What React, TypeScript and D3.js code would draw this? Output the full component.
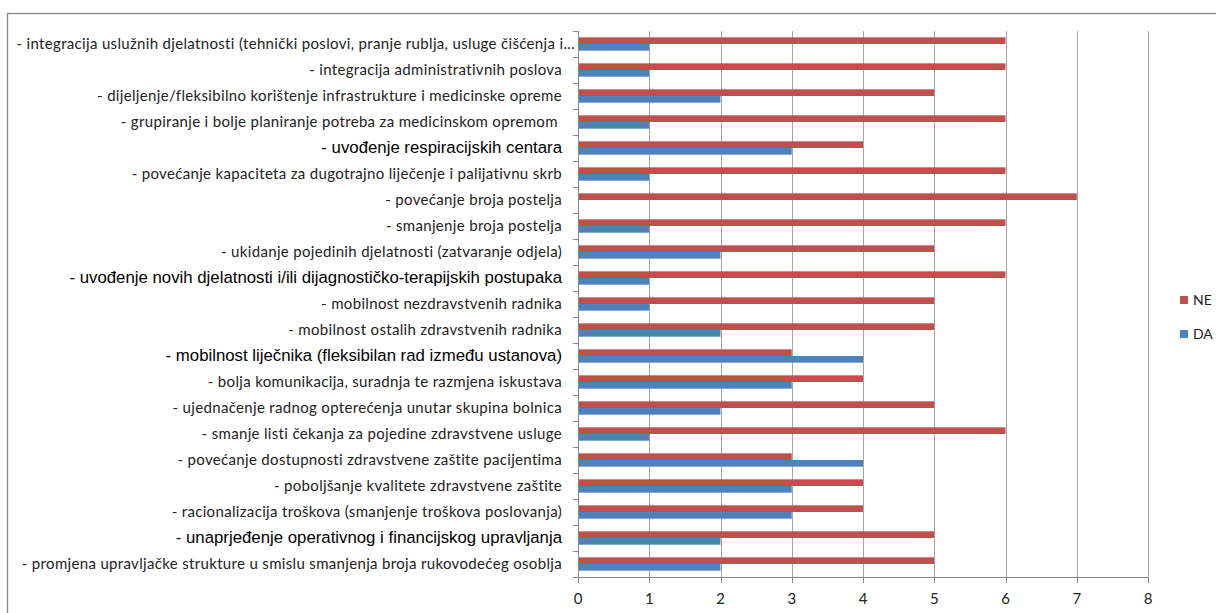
import { useRef, useEffect } from "react";
import * as d3 from "d3";

const categories = [
  "- integracija uslužnih djelatnosti (tehnički poslovi, pranje rublja, usluge čišćenja i...",
  "- integracija administrativnih poslova",
  "- dijeljenje/fleksibilno korištenje infrastrukture i medicinske opreme",
  "- grupiranje i bolje planiranje potreba za medicinskom opremom ",
  "- uvođenje respiracijskih centara",
  "- povećanje kapaciteta za dugotrajno liječenje i palijativnu skrb",
  "- povećanje broja postelja",
  "- smanjenje broja postelja",
  "- ukidanje pojedinih djelatnosti (zatvaranje odjela)",
  "- uvođenje novih djelatnosti i/ili dijagnostičko-terapijskih postupaka",
  "- mobilnost nezdravstvenih radnika",
  "- mobilnost ostalih zdravstvenih radnika",
  "- mobilnost liječnika (fleksibilan rad između ustanova)",
  "- bolja komunikacija, suradnja te razmjena iskustava",
  "- ujednačenje radnog opterećenja unutar skupina bolnica",
  "- smanje listi čekanja za pojedine zdravstvene usluge",
  "- povećanje dostupnosti zdravstvene zaštite pacijentima",
  "- poboljšanje kvalitete zdravstvene zaštite",
  "- racionalizacija troškova (smanjenje troškova poslovanja)",
  "- unaprjeđenje operativnog i financijskog upravljanja",
  "- promjena upravljačke strukture u smislu smanjenja broja rukovodećeg osoblja",
];

// labels that were typed in a different font in the source sheet
const arialLabels = [4, 9, 12, 19];

const neValues = [6, 6, 5, 6, 4, 6, 7, 6, 5, 6, 5, 5, 3, 4, 5, 6, 3, 4, 4, 5, 5];
const daValues = [1, 1, 2, 1, 3, 1, 0, 1, 2, 1, 1, 2, 4, 3, 2, 1, 4, 3, 3, 2, 2];

const seriesNames = ["NE", "DA"];
const seriesColors = ["#C0504D", "#4F81BD"];
const xTicks = [0, 1, 2, 3, 4, 5, 6, 7, 8];

const App = () => {
  const svgRef = useRef(null);

  useEffect(() => {
    d3.select(svgRef.current).selectAll("*").remove();

    const width = 1216;
    const height = 613;
    const left = 578;
    const right = 1148;
    const top = 31;
    const bottom = 577;
    const gridColor = "#A6A6A6";
    const axisColor = "#868686";
    const bodyFont = "Lato, 'Open Sans', sans-serif";

    const svg = d3
      .select(svgRef.current)
      .attr("width", width)
      .attr("height", height);

    svg.append("rect").attr("width", width).attr("height", height).attr("fill", "#fff");

    // chart frame
    svg
      .append("rect")
      .attr("x", 7.5)
      .attr("y", 13.5)
      .attr("width", width + 10)
      .attr("height", height + 10)
      .attr("fill", "none")
      .attr("stroke", axisColor)
      .attr("stroke-width", 1.3);

    const x = d3.scaleLinear().domain([0, 8]).range([left, right]);
    const y = d3
      .scaleBand()
      .domain(categories)
      .range([top, bottom]);
    const inner = d3
      .scaleBand()
      .domain(seriesNames)
      .range([0, y.bandwidth()])
      .paddingOuter(0.95)
      .paddingInner(0);

    // vertical gridlines
    svg
      .append("g")
      .selectAll("line")
      .data(xTicks.slice(1))
      .enter()
      .append("line")
      .attr("x1", (d) => Math.round(x(d)) + 0.5)
      .attr("x2", (d) => Math.round(x(d)) + 0.5)
      .attr("y1", top)
      .attr("y2", bottom + 5)
      .attr("stroke", gridColor)
      .attr("stroke-width", 1);

    // bars
    const rows = categories.map((c, i) => ({ c, vals: [neValues[i], daValues[i]] }));
    const groups = svg
      .append("g")
      .selectAll("g")
      .data(rows)
      .enter()
      .append("g")
      .attr("transform", (d) => `translate(0,${y(d.c)})`);

    groups
      .selectAll("rect")
      .data((d) => d.vals.map((v, k) => ({ v, k })))
      .enter()
      .append("rect")
      .attr("x", x(0))
      .attr("y", (d) => inner(seriesNames[d.k]))
      .attr("width", (d) => x(d.v) - x(0))
      .attr("height", inner.bandwidth())
      .attr("fill", (d) => seriesColors[d.k]);

    // x axis
    const xAxis = svg.append("g");
    xAxis
      .append("line")
      .attr("x1", left - 5)
      .attr("x2", right)
      .attr("y1", bottom + 0.5)
      .attr("y2", bottom + 0.5)
      .attr("stroke", axisColor);
    xAxis
      .selectAll("line.tick")
      .data(xTicks)
      .enter()
      .append("line")
      .attr("class", "tick")
      .attr("x1", (d) => Math.round(x(d)) + 0.5)
      .attr("x2", (d) => Math.round(x(d)) + 0.5)
      .attr("y1", bottom)
      .attr("y2", bottom + 6)
      .attr("stroke", axisColor);
    xAxis
      .selectAll("text")
      .data(xTicks)
      .enter()
      .append("text")
      .attr("x", (d) => x(d))
      .attr("y", 604)
      .attr("text-anchor", "middle")
      .style("font-family", bodyFont)
      .style("font-size", "15px")
      .style("fill", "#222")
      .text((d) => d);

    // y axis
    const yAxis = svg.append("g");
    yAxis
      .append("line")
      .attr("x1", left + 0.5)
      .attr("x2", left + 0.5)
      .attr("y1", top)
      .attr("y2", bottom + 6)
      .attr("stroke", axisColor);
    const bounds = categories.map((c) => y(c)).concat([bottom]);
    yAxis
      .selectAll("line.tick")
      .data(bounds)
      .enter()
      .append("line")
      .attr("class", "tick")
      .attr("x1", left - 5)
      .attr("x2", left)
      .attr("y1", (d) => Math.round(d) + 0.5)
      .attr("y2", (d) => Math.round(d) + 0.5)
      .attr("stroke", axisColor);
    yAxis
      .selectAll("text")
      .data(categories)
      .enter()
      .append("text")
      // the truncated first label runs right up to the axis
      .attr("x", (d, i) => (i === 0 ? 575 : 562))
      .attr("y", (d) => y(d) + y.bandwidth() / 2 + 5)
      .attr("text-anchor", "end")
      .style("white-space", "pre")
      .style("font-family", (d, i) =>
        arialLabels.includes(i) ? "'Liberation Sans', Arial, sans-serif" : bodyFont
      )
      .style("font-size", (d, i) => (arialLabels.includes(i) ? "16.8px" : "15px"))
      .style("letter-spacing", (d, i) => (arialLabels.includes(i) ? "0px" : "0.33px"))
      .style("fill", (d, i) => (arialLabels.includes(i) ? "#000" : "#222"))
      .text((d) => d);

    // legend
    const legend = svg
      .append("g")
      .selectAll("g")
      .data(seriesNames)
      .enter()
      .append("g")
      .attr("transform", (d, i) => `translate(1180,${296 + i * 34})`);
    legend
      .append("rect")
      .attr("width", 8)
      .attr("height", 8)
      .attr("fill", (d, i) => seriesColors[i]);
    legend
      .append("text")
      .attr("x", 13)
      .attr("y", 9)
      .style("font-family", bodyFont)
      .style("font-size", "14px")
      .style("fill", "#222")
      .text((d) => d);
  }, []);

  return (
    <div style={{ position: "absolute", left: 0, top: 0 }}>
      <svg ref={svgRef}></svg>
    </div>
  );
};

export default App;
